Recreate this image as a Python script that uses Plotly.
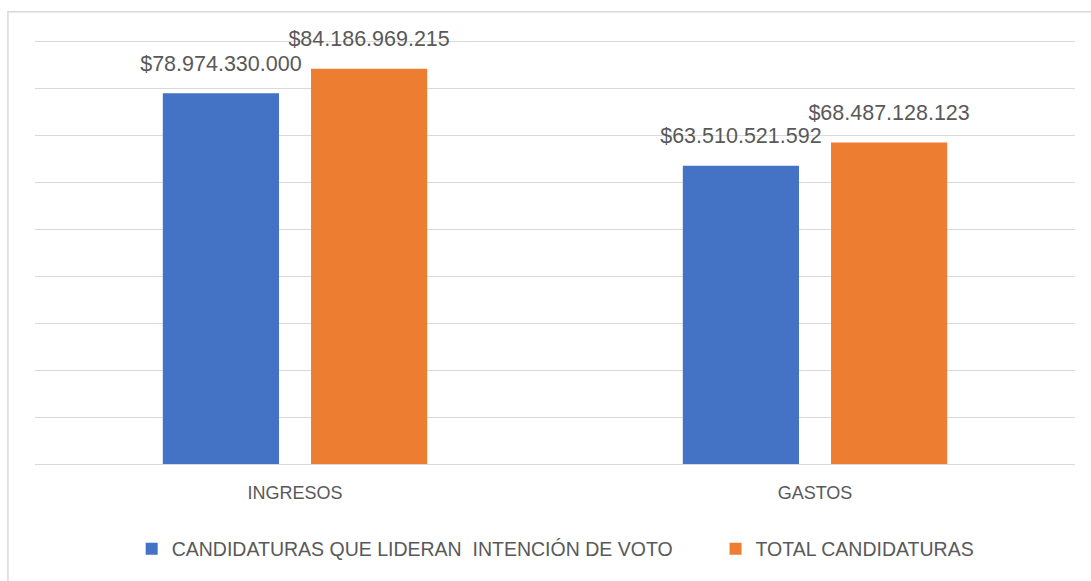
import plotly.graph_objects as go

categories = ["INGRESOS", "GASTOS"]
series_names = ["CANDIDATURAS QUE LIDERAN  INTENCIÓN DE VOTO" + "\u00a0" * 7, "TOTAL CANDIDATURAS"]
lideran = [78974330000, 63510521592]
total = [84186969215, 68487128123]
colors = ["#4472C4", "#ED7D31"]

def fmt(v):
    return "$" + f"{v:,}".replace(",", ".")

fig = go.Figure()
for i, (name, vals) in enumerate(zip(series_names, [lideran, total])):
    fig.add_trace(go.Bar(
        x=categories, y=vals, name=name, marker_color=colors[i],
        marker_line_width=0, offsetgroup=str(i), alignmentgroup="a",
    ))
for i, vals in enumerate([lideran, total]):
    fig.add_trace(go.Scatter(
        x=categories, y=vals, mode="markers+text", text=[fmt(v) for v in vals],
        textposition="top center",
        marker=dict(size=26, color="rgba(0,0,0,0)", line=dict(width=0)),
        textfont=dict(size=21.5, color="#595959", family="Liberation Sans"),
        offsetgroup=str(i), alignmentgroup="a", showlegend=False,
        hoverinfo="skip", cliponaxis=False,
    ))

fig.update_layout(
    width=1091, height=581,
    margin=dict(l=35, r=16, t=39, b=117),
    paper_bgcolor="white", plot_bgcolor="white",
    barmode="group", bargap=0.43, bargroupgap=0.216,
    scattermode="group", scattergap=0.43,
    font=dict(family="Liberation Sans", color="#595959"),
    xaxis=dict(showgrid=False, showline=False, ticks="",
               tickfont=dict(size=18, color="#595959"), ticklabelstandoff=16),
    yaxis=dict(range=[0, 90.5e9], tick0=0, dtick=10e9, showgrid=True, gridcolor="#D9D9D9",
               gridwidth=1, zeroline=True, zerolinecolor="#D9D9D9", zerolinewidth=1,
               showticklabels=False, ticks=""),
    legend=dict(orientation="h", xref="container", yref="container",
                x=0.1207, y=0.055, xanchor="left", yanchor="middle",
                font=dict(size=19.5, color="#595959"), traceorder="normal",
                itemwidth=30),
    shapes=[dict(type="rect", xref="paper", yref="paper",
                 x0=-0.026, x1=1.05, y0=-0.35, y1=1.064,
                 line=dict(color="#D9D9D9", width=1.5), fillcolor="rgba(0,0,0,0)",
                 layer="below")],
)

fig.write_html("out.html", config={"displayModeBar": False},
               post_script="document.body.style.margin='0';")
